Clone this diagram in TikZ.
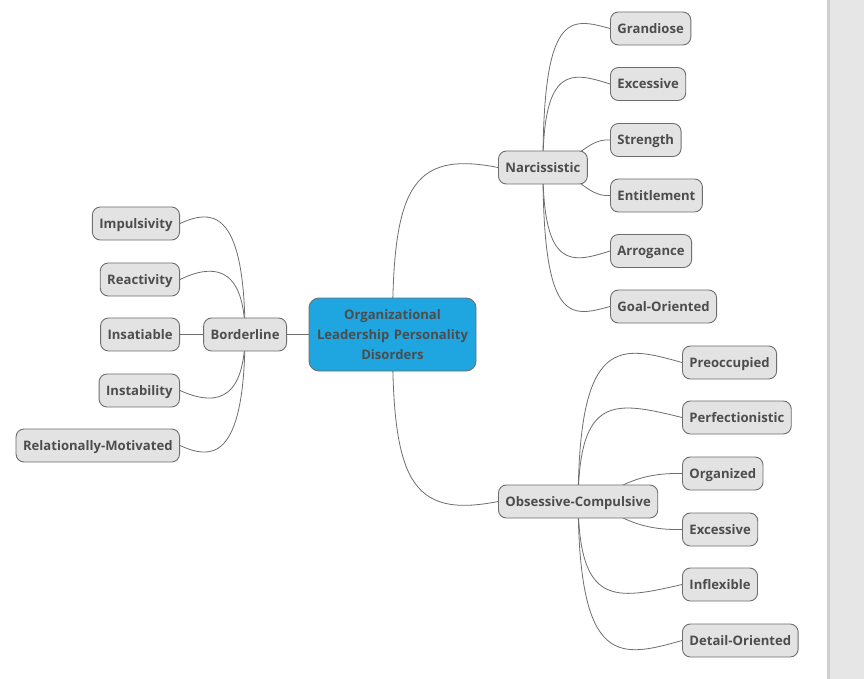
\documentclass[tikz,border=0pt]{standalone}
\usepackage{fontspec}
\setmainfont{Open Sans}
\usetikzlibrary{backgrounds}
\definecolor{txt}{HTML}{4D4D4D}
\definecolor{leaffill}{HTML}{E3E3E3}
\definecolor{edgegray}{HTML}{6E6E6E}
\definecolor{rootfill}{HTML}{1FA6E0}
\definecolor{panel}{HTML}{E6E6E6}
\definecolor{panelline}{HTML}{CFCFCF}
\tikzset{
  leaf/.style={draw=edgegray, fill=leaffill, line width=0.9pt, rounded corners=8pt,
    minimum height=33pt, inner xsep=7pt, inner ysep=0pt, text=txt,
    text height=9.4pt, text depth=0pt,
    font=\fontsize{13.1}{15}\selectfont\bfseries},
  rootbox/.style={draw=edgegray, fill=rootfill, line width=0.9pt, rounded corners=10pt,
    minimum width=167pt, minimum height=73pt, text width=160pt, align=center, text=txt,
    font=\fontsize{13.1}{20}\selectfont\bfseries},
  conn/.style={draw=edgegray, line width=0.8pt},
}
\begin{document}
\begin{tikzpicture}[x=1pt, y=-1pt]
\useasboundingbox (0,0) rectangle (864,679);
\begin{scope}[on background layer]
\fill[white] (0,0) rectangle (864,679);
\fill[panel] (827,0) rectangle (864,679);
\fill[panelline] (827,0) rectangle (829.5,679);
\end{scope}

% root
\node[rootbox] (root) at (392.5,334.5) {Organizational\\Leadership Personality\\Disorders};

% main branches
\node[leaf, anchor=east] (bord) at (287,334.5) {Borderline};
\node[leaf, anchor=west] (narc) at (498,167.5) {Narcissistic};
\node[leaf, anchor=west] (ocd) at (498,501.5) {Obsessive-Compulsive};

% borderline leaves
\node[leaf, anchor=east] (impu) at (180,223.5) {Impulsivity};
\node[leaf, anchor=east] (reac) at (180,279.5) {Reactivity};
\node[leaf, anchor=east] (insa) at (180,334.5) {Insatiable};
\node[leaf, anchor=east] (inst) at (180,390.5) {Instability};
\node[leaf, anchor=east] (rela) at (180,445.5) {Relationally-Motivated};

% narcissistic leaves
\node[leaf, anchor=west] (gran) at (610,28.5) {Grandiose};
\node[leaf, anchor=west] (exc1) at (610,84) {Excessive};
\node[leaf, anchor=west] (stre) at (610,140) {Strength};
\node[leaf, anchor=west] (enti) at (610,195.5) {Entitlement};
\node[leaf, anchor=west] (arro) at (610,251) {Arrogance};
\node[leaf, anchor=west] (goal) at (610,306.5) {Goal-Oriented};

% obsessive-compulsive leaves
\node[leaf, anchor=west] (preo) at (682,362.5) {Preoccupied};
\node[leaf, anchor=west] (perf) at (682,417.5) {Perfectionistic};
\node[leaf, anchor=west] (orga) at (682,473.5) {Organized};
\node[leaf, anchor=west] (exc2) at (682,529.5) {Excessive};
\node[leaf, anchor=west] (infl) at (682,584.5) {Inflexible};
\node[leaf, anchor=west] (deta) at (682,640.5) {Detail-Oriented};

\begin{scope}[on background layer]
% root connectors
\draw[conn] (root.center) -- (bord.center);
\draw[conn] (root.center) .. controls (392,190) and (410,150) .. (narc.west);
\draw[conn] (root.center) .. controls (392,479) and (410,519) .. (ocd.west);

% borderline connectors
\draw[conn] (bord.center) .. controls (244.5,205) and (210,210) .. (impu.east);
\draw[conn] (bord.center) .. controls (244.5,262) and (210,265) .. (reac.east);
\draw[conn] (bord.center) -- (insa.east);
\draw[conn] (bord.center) .. controls (244.5,407) and (210,404) .. (inst.east);
\draw[conn] (bord.center) .. controls (244.5,464) and (210,459) .. (rela.east);

% narcissistic connectors
\draw[conn] (narc.center) .. controls (543,10.5) and (570,17.5) .. (gran.west);
\draw[conn] (narc.center) .. controls (543,64) and (572,72) .. (exc1.west);
\draw[conn] (narc.center) .. controls (575,167) and (585,138) .. (stre.west);
\draw[conn] (narc.center) .. controls (575,168) and (585,197.5) .. (enti.west);
\draw[conn] (narc.center) .. controls (543,271) and (572,263) .. (arro.west);
\draw[conn] (narc.center) .. controls (543,324.5) and (570,317.5) .. (goal.west);

% obsessive-compulsive connectors
\draw[conn] (ocd.center) .. controls (579,335) and (620,345) .. (preo.west);
\draw[conn] (ocd.center) .. controls (579,394) and (615,401) .. (perf.west);
\draw[conn] (ocd.center) .. controls (611,501) and (621,472) .. (orga.west);
\draw[conn] (ocd.center) .. controls (611,502) and (621,531) .. (exc2.west);
\draw[conn] (ocd.center) .. controls (579,607) and (615,600) .. (infl.west);
\draw[conn] (ocd.center) .. controls (579,668) and (620,658) .. (deta.west);
\end{scope}
\end{tikzpicture}
\end{document}
